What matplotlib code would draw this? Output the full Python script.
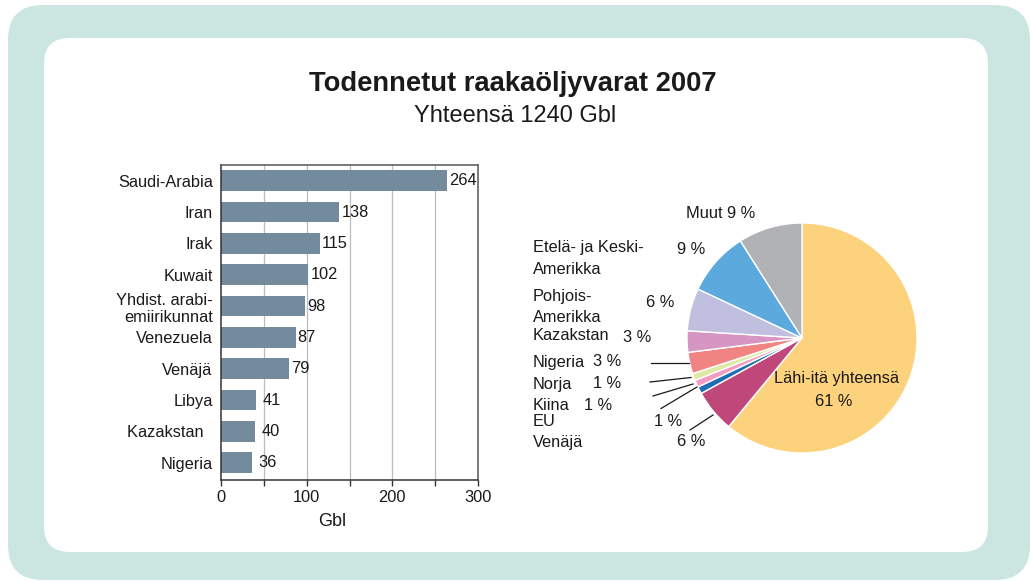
import matplotlib
matplotlib.use("Agg")
import matplotlib.pyplot as plt
from matplotlib.patches import FancyBboxPatch
from matplotlib.lines import Line2D

plt.rcParams['font.family'] = ['Liberation Sans', 'DejaVu Sans']

# ---- data ----
countries = ["Saudi-Arabia", "Iran", "Irak", "Kuwait", "Yhdist. arabi-\nemiirikunnat",
             "Venezuela", "Venäjä", "Libya", "Kazakstan  ", "Nigeria"]
reserves = [264, 138, 115, 102, 98, 87, 79, 41, 40, 36]

regions = ["Lähi-itä yhteensä", "Venäjä", "EU", "Kiina", "Norja", "Nigeria",
           "Kazakstan", "Pohjois-Amerikka", "Etelä- ja Keski-Amerikka", "Muut"]
shares = [61, 6, 1, 1, 1, 3, 3, 6, 9, 9]
pie_colors = ["#fdd27c", "#c0477a", "#1f6db3", "#f39bc2", "#dfe9a3", "#f08482",
              "#d596c3", "#c1bfdf", "#5caadd", "#b1b2b6"]

title = "Todennetut raakaöljyvarat 2007"
subtitle = "Yhteensä 1240 Gbl"

W, H = 1031, 581
fig = plt.figure(figsize=(W / 100, H / 100), dpi=100)
fig.patch.set_facecolor("white")


def fx(x):
    return x / W


def fy(y):
    return 1 - y / H


# background boxes
outer = FancyBboxPatch((fx(8), fy(580)), fx(1030 - 8), (580 - 5) / H,
                       boxstyle="round,pad=0,rounding_size=0.034",
                       mutation_aspect=W / H, zorder=-10,
                       transform=fig.transFigure, facecolor="#cbe6e0", edgecolor="none")
fig.patches.append(outer)
inner = FancyBboxPatch((fx(44), fy(552)), fx(988 - 44), (552 - 38) / H,
                       boxstyle="round,pad=0,rounding_size=0.025",
                       mutation_aspect=W / H, zorder=-9,
                       transform=fig.transFigure, facecolor="white", edgecolor="none")
fig.patches.append(inner)

fig.text(fx(513), fy(84), title, ha="center", va="center", fontsize=19.7,
         fontweight="bold", color="#1a1a1a")
fig.text(fx(515), fy(116), subtitle, ha="center", va="center", fontsize=17,
         color="#1a1a1a")

# ---- bar chart ----
ax = fig.add_axes([fx(221), fy(480), fx(478 - 221), (480 - 165) / H])
ax.set_facecolor("none")
ypos = list(range(len(countries)))
ax.barh(ypos, reserves, height=0.66, color="#748a9d", edgecolor="none", zorder=2)
ax.set_xlim(0, 300)
ax.set_ylim(9.55, -0.5)
for gx in [50, 100, 150, 200, 250]:
    ax.axvline(gx, color="#bcbcbc", lw=0.9, zorder=1)
ax.set_xticks([0, 100, 200, 300])
ax.set_xticks([50, 150, 250], minor=True)
ax.tick_params(axis="x", which="both", direction="out", length=4, width=1,
               color="#333333", labelsize=11.8, pad=3, labelcolor="#1a1a1a")
ax.set_yticks(ypos)
ax.set_yticklabels(countries, fontsize=11.8, color="#1a1a1a", linespacing=1.2)
ax.tick_params(axis="y", length=0, pad=6)
for s in ax.spines.values():
    s.set_color("#333333")
    s.set_linewidth(1.1)
ax.spines["top"].set_color("#555555")
ax.spines["right"].set_color("#555555")
ax.set_xlabel("Gbl", fontsize=13, color="#1a1a1a")
ax.xaxis.set_label_coords(0.432, -0.105)
for i, v in enumerate(reserves):
    off = 4.5 if v < 60 else 1.5
    ax.annotate(str(v), (v, i), xytext=(off, 0), textcoords="offset points",
                va="center", ha="left", fontsize=11.8, color="#1a1a1a")

# ---- pie chart ----
pax = fig.add_axes([fx(687), fy(453), fx(230), 230 / H])
pax.pie(shares, colors=pie_colors, startangle=90, counterclock=False,
        wedgeprops=dict(edgecolor="white", linewidth=1.0))
pax.set_xlim(-1, 1)
pax.set_ylim(-1, 1)
pax.set_aspect("equal")
pax.axis("off")

fs = 11.8
lab = dict(fontsize=fs, color="#1a1a1a", va="center", ha="left")
fig.text(fx(686), fy(214), "Muut 9 %", **lab)
fig.text(fx(533), fy(248), "Etelä- ja Keski-", **lab)
fig.text(fx(533), fy(269), "Amerikka", **lab)
fig.text(fx(677), fy(250), "9 %", **lab)
fig.text(fx(533), fy(297), "Pohjois-", **lab)
fig.text(fx(533), fy(318), "Amerikka", **lab)
fig.text(fx(646), fy(303), "6 %", **lab)
fig.text(fx(533), fy(336), "Kazakstan", **lab)
fig.text(fx(623), fy(337), "3 %", **lab)
fig.text(fx(533), fy(362), "Nigeria", **lab)
fig.text(fx(593), fy(362), "3 %", **lab)
fig.text(fx(533), fy(384), "Norja", **lab)
fig.text(fx(593), fy(384), "1 %", **lab)
fig.text(fx(533), fy(405), "Kiina", **lab)
fig.text(fx(584), fy(405), "1 %", **lab)
fig.text(fx(533), fy(421), "EU", **lab)
fig.text(fx(654), fy(421), "1 %", **lab)
fig.text(fx(533), fy(442), "Venäjä", **lab)
fig.text(fx(677), fy(442), "6 %", **lab)
fig.text(fx(837), fy(378), "Lähi-itä yhteensä", fontsize=fs, color="#1a1a1a",
         ha="center", va="center")
fig.text(fx(834), fy(402), "61 %", fontsize=fs, color="#1a1a1a",
         ha="center", va="center")

leaders = [((651, 363), (689, 363)),
           ((650, 382), (691, 377.5)),
           ((653, 396), (693, 384)),
           ((661, 408.5), (697, 387)),
           ((690, 430), (713, 415))]
for (x0, y0), (x1, y1) in leaders:
    fig.add_artist(Line2D([fx(x0), fx(x1)], [fy(y0), fy(y1)],
                          transform=fig.transFigure, color="#1a1a1a", lw=0.9))

fig.savefig("out.png", dpi=100)
